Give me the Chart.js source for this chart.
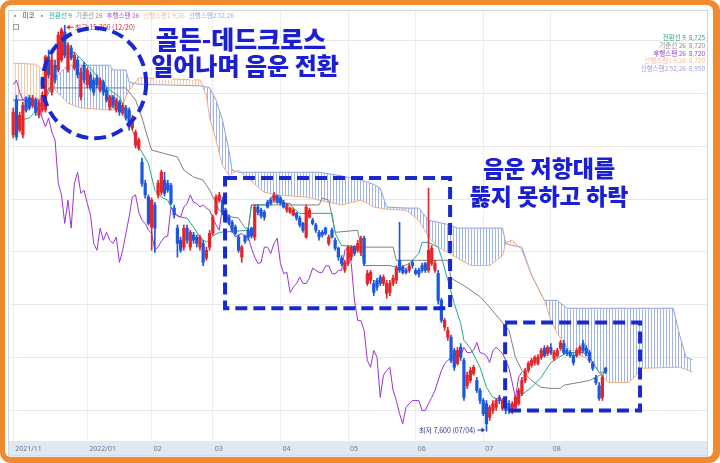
<!DOCTYPE html>
<html>
<head>
<meta charset="utf-8">
<script src="https://cdn.jsdelivr.net/npm/chart.js@4.4.1/dist/chart.umd.min.js"></script>
<style>
  html, body { margin: 0; padding: 0; background: #fff; }
</style>
</head>
<body>
<canvas id="chart" width="720" height="463"></canvas>
<script>
// daily candles, index 0 = late Nov 2021
const opens = [
  13220,13880,13310,13220,13880,13920,13770,13880,13590,13690,
  13690,14700,14030,14540,14450,14640,15170,14450,14870,14490,
  14640,13940,14540,14170,14360,14260,14300,14070,14220,14070,
  13750,13940,13690,13840,13630,13730,13690,13350,13020,12970,
  12700,12300,12040,11470,11890,12080,12130,12360,12300,12260,
  11830,11450,11220,11090,11450,11090,11320,11280,11090,11160,
  10880,11090,11350,11730,11980,11980,11790,11660,11560,11470,
  11280,10900,11300,11410,11450,11280,11850,11790,11750,11940,
  11980,11980,12060,12020,11940,11790,11750,11700,11730,11640,
  11540,11280,11660,11600,11510,11370,11370,11450,11160,11410,
  11220,11070,10880,10650,10780,10900,11090,11030,10990,11260,
  10400,10460,10400,10460,10520,10400,10210,10230,10400,10460,
  10840,10710,10650,10650,10800,10650,10650,10740,10780,10650,
  10780,10650,10590,10080,9570,9380,9380,9130,8880,9190,
  8940,8460,8560,8690,8560,8370,8180,8120,7860,7990,
  8050,8240,8030,8050,8120,7990,8050,8120,8310,8560,
  8750,8850,8900,8880,9000,9170,9070,9190,8980,9030,
  9170,9260,9130,9090,9030,9030,9090,9260,9170,9090,
  8880,8620,8460,8240,8790
];
const highs = [
  13730,13970,13650,13840,13940,13970,13970,13920,13880,14030,
  14730,14830,14730,14640,15170,15250,15300,14970,14920,14780,
  14700,14490,14600,14490,14410,14300,14360,14300,14260,14110,
  13970,13970,13920,13880,13820,13780,13730,13590,13310,13160,
  12780,12360,12080,12020,11940,12360,12550,12510,12360,12300,
  11890,11510,11280,11510,11510,11410,11370,11320,11320,11220,
  11090,11410,11700,12080,12130,12040,11830,11700,11600,11510,
  11320,11120,11320,11450,11470,11890,11890,11830,11790,11980,
  12020,12130,12080,12040,11980,11920,11850,11830,11750,11680,
  11560,11890,11830,11640,11540,11410,11410,11470,11320,11450,
  11260,11090,10930,10840,11120,11120,11120,11220,11300,11300,
  10650,10650,10460,10500,10560,10560,10460,10460,10560,10740,
  11560,10740,10690,10780,10840,10690,10690,10780,10800,12210,
  11120,10840,10650,10120,9740,9570,9420,9170,9190,9260,
  8980,8720,8810,8850,8620,8410,8220,8180,8090,8180,
  8220,8280,8220,8090,8180,8160,8280,8410,8620,8790,
  8920,8980,9030,9050,9170,9220,9220,9260,9130,9170,
  9320,9320,9170,9130,9070,9170,9220,9320,9220,9130,
  8920,8660,8520,8660,8810
];
const lows = [
  13160,13120,13270,13160,13650,13690,13730,13590,13540,13650,
  13650,14300,13970,14200,14410,14600,14680,14410,14640,14450,
  14300,13880,14200,14110,14070,13970,14110,14030,13970,13840,
  13690,13730,13650,13590,13590,13500,13310,13310,12970,12930,
  12240,12020,11510,11030,10990,12020,12080,12060,12130,11890,
  11640,10900,10990,11030,11160,11030,11160,11090,11030,10740,
  10840,11030,11320,11700,11940,11700,11560,11510,11370,11320,
  10990,10800,11160,11220,11260,11220,11700,11640,11600,11830,
  11890,11940,11920,11890,11830,11750,11730,11680,11600,11470,
  11370,11260,11640,11510,11370,11220,11280,11320,11120,11260,
  11030,10840,10740,10610,10740,10840,10930,10990,10930,10740,
  10360,10400,10170,10270,10360,10360,10120,10170,10360,10400,
  10610,10580,10580,10610,10690,10560,10520,10610,10610,10610,
  10740,10610,10010,9660,9510,9320,8900,8750,8850,8940,
  8180,8410,8520,8660,8330,8120,7890,7600,7800,7930,
  7990,8120,7990,7930,7930,7930,8000,8090,8270,8520,
  8710,8810,8850,8850,8960,9000,9030,9050,8940,9000,
  9130,9050,9030,9000,8850,9000,9050,9090,9030,8900,
  8750,8480,8180,8180,8690
];
const closes = [
  13650,13180,13590,13780,13690,13730,13920,13650,13840,13970,
  14700,14360,14640,14260,15110,15210,14730,14920,14680,14730,
  14360,14410,14260,14450,14110,14030,14170,14260,14030,13880,
  13940,13780,13880,13650,13780,13540,13370,13540,13270,13120,
  12300,12080,11540,11980,11450,12300,12510,12110,12170,11920,
  11700,11160,11030,11450,11220,11370,11220,11160,11280,10800,
  11030,11350,11660,12040,12080,11750,11600,11540,11410,11350,
  11030,11090,11200,11280,11300,11850,11750,11680,11660,11850,
  11920,12080,11940,11920,11850,11890,11830,11790,11640,11510,
  11410,11850,11790,11540,11410,11280,11320,11350,11280,11280,
  11070,10900,10780,10800,11090,11090,10970,11160,11260,10780,
  10590,10610,10230,10330,10400,10520,10400,10400,10500,10690,
  10650,10610,10610,10730,10740,10590,10580,10650,10650,11030,
  11070,10780,10080,9700,9700,9510,8940,8810,9130,9000,
  8240,8660,8750,8810,8370,8180,7930,7740,8050,8120,
  8180,8180,8180,7990,7990,8120,8240,8370,8560,8750,
  8880,8940,9000,9000,9130,9030,9190,9090,9090,9130,
  9280,9090,9070,9030,8900,9130,9190,9130,9070,8940,
  8790,8520,8220,8620,8720
];

// 전환선 (conversion line), read at its break points
const convIdx = [0,5,8,11,13,15,19,22,25,27,30,33,35,37,39,42,43,44,46,48,49,50,52,54,56,58,60,62,64,73,
  74,79,80,83,84,86,87,89,99,100,102,108,109,117,120,123,126,127,129,132,133,135,137,139,140,142,145,147,149,152,
  155,157,161,164,167,169,172,177,179,181,182,184];
const convVal = [13460,13540,13730,14010,14450,14730,14790,14600,14410,14260,14070,13940,13650,13310,12990,12680,12420,12170,12040,11980,
  11850,11730,11660,11640,11470,11280,11180,11300,11370,11410,11890,11890,12040,12060,11920,11920,11830,11730,11730,11350,
  11120,11090,10740,10740,10690,10780,10970,11180,11180,11090,10900,10460,10020,9640,9320,9170,8810,8430,8240,8180,
  8050,8240,8430,8620,8900,8980,9090,9090,9000,8810,8710,8725];

// 기준선 (base line)
const baseIdx = [0,10,11,35,38,40,42,43,51,53,56,59,61,63,64,68,70,72,73,74,95,96,98,100,107,108,118,119,135,136,
  140,145,147,154,156,158,161,164,167,170,171,179,181,184];
const baseVal = [13880,13880,14110,14110,13880,13540,13120,12930,12800,12550,12420,12360,12170,11920,11790,11660,11640,11450,11450,11890,
  11890,12020,11980,11370,11410,11090,11090,10840,10840,10500,10360,10150,10020,9510,9000,8750,8560,8430,8410,8410,
  8470,8560,8620,8720];

// 선행스팬1 / 선행스팬2 (cloud), same sample points for both
const spanIdx = [0,7,10,13,17,21,30,31,34,35,36,39,58,60,61,63,65,67,68,70,72,76,78,82,91,95,102,108,110,112,
  114,116,122,126,129,132,135,138,142,148,152,153,155,158,161,165,167,169,172,175,178,181,183,185,191,193,195,205,207,209,211];
const span1 = [14580,14560,14410,14070,13820,13730,13690,13690,13780,13940,14070,14300,14260,13970,13540,13120,12640,12450,12490,12550,
  12450,12230,12130,12080,12040,11980,11890,11980,11920,11850,11830,11810,11790,11600,11280,11090,10990,10880,10740,10740,
  10930,11180,11220,11030,10560,10080,9700,9450,9190,9070,8980,8810,8620,8520,8520,8620,8790,8810,8810,8770,8720];
const span2 = [13880,13880,13970,14300,14540,14540,14540,14450,14450,14450,14220,14180,14150,14130,14110,13880,13500,12930,12550,12510,
  12510,12510,12510,12510,12510,12510,12440,12360,12320,12280,12210,11850,11830,11830,11600,11560,11520,11450,11450,11450,
  11450,11160,11120,11090,10560,10080,10080,10080,9930,9930,9930,9930,9930,9930,9930,9930,9930,9930,9420,9000,8950];

const lagShift = 26;
const monthTicks = [0, 23, 43, 62, 83, 104, 125, 146, 167];
const monthLabels = ['2021/11', '2022/01', '02', '03', '04', '05', '06', '07', '08'];
const priceGrid = [8000, 9000, 10000, 11000, 12000, 13000, 14000, 15000];
const highDate = '12/20';
const lowDate = '07/04';

const RED = '#e5252a', BLUE = '#1d58dc';
const TEAL = '#27a68c', GREY = '#808080', PURPLE = '#9b34d0';
const ORANGE = '#f2ae86', LAVENDER = '#8c9de4';
const NOTE_BLUE = '#1a1fd2';
const KR = '"Noto Sans CJK KR", "Noto Sans", sans-serif';

const canvas = document.getElementById('chart');
const ctx = canvas.getContext('2d');

function stripes(color) {
  const c = document.createElement('canvas');
  c.width = 3; c.height = 4;
  const g = c.getContext('2d');
  g.fillStyle = color;
  g.fillRect(0, 0, 1, 4);
  return ctx.createPattern(c, 'repeat');
}

const pts = (xs, ys) => xs.map((x, i) => ({ x: x, y: ys[i] }));
const candleIdx = closes.map((_, i) => i);
const candleColors = candleIdx.map(i => closes[i] >= opens[i] ? RED : BLUE);
const wicks = candleIdx.map(i => ({ x: i, y: [lows[i], highs[i]] }));
const bodies = candleIdx.map(i => ({ x: i, y: [opens[i], closes[i]] }));
const lagging = closes.slice(lagShift).map((v, i) => ({ x: i, y: v }));

const fmt = v => v.toLocaleString('en-US');

function roundRect(c, x, y, w, h, r) {
  c.beginPath();
  c.moveTo(x + r, y);
  c.arcTo(x + w, y, x + w, y + h, r);
  c.arcTo(x + w, y + h, x, y + h, r);
  c.arcTo(x, y + h, x, y, r);
  c.arcTo(x, y, x + w, y, r);
  c.closePath();
}

const circleNote = { x: 25.2, y: 14200, rx: 16.1, ry: 1045 };
const boxNotes = [
  { x0: 65.8, x1: 135.7, y0: 9930, y1: 12400 },
  { x0: 152.8, x1: 194.7, y0: 7990, y1: 9660 }
];

const deco = {
  id: 'deco',
  beforeDraw(chart) {
    const c = chart.ctx, a = chart.chartArea, xs = chart.scales.x;
    c.save();
    c.fillStyle = '#fff';
    c.fillRect(0, 0, 720, 463);
    roundRect(c, 0, 0, 720, 463, 11);
    c.fillStyle = '#f08a30';
    c.fill();
    roundRect(c, 5, 5, 708, 452, 6);
    c.fillStyle = '#fff';
    c.fill();
    c.fillStyle = '#dfe8f3';
    c.fillRect(8, a.bottom, a.right - 8, xs.bottom - a.bottom);
    c.strokeStyle = '#cdd5de';
    c.lineWidth = 1;
    c.strokeRect(8.5, 10.5, a.right - 8, xs.bottom - 10.5);
    c.restore();
  },
  afterDraw(chart) {
    const c = chart.ctx, xs = chart.scales.x, ys = chart.scales.y;
    c.save();

    // legend line
    const legend = [['▪', '#8a8a8a'], ['미코', '#444'], ['▪', '#8a8a8a'], ['전환선 9', TEAL], ['기준선 26', '#8a8a8a'],
      ['후행스팬 26', '#b054d8'], ['선행스팬1 9,26', '#f3bd98'], ['선행스팬2 52,26', '#a3abe6']];
    c.font = '6.5px ' + KR;
    c.textBaseline = 'middle';
    let lx = 12;
    legend.forEach(([t, col]) => {
      c.fillStyle = col;
      c.fillText(t, lx, 15.5);
      lx += c.measureText(t).width + 4;
    });
    c.strokeStyle = '#9a9a9a';
    c.lineWidth = 1;
    c.strokeRect(13.5, 24.5, 5, 5);

    // last values on the right
    const lastVals = [
      ['전환선 9  ' + fmt(convVal[convVal.length - 1]), TEAL],
      ['기준선 26  ' + fmt(baseVal[baseVal.length - 1]), '#8a8a8a'],
      ['후행스팬 26  ' + fmt(closes[closes.length - 1]), '#a040d0'],
      ['선행스팬1 9,26  ' + fmt(span1[span1.length - 1]), '#f3bd98'],
      ['선행스팬2 52,26  ' + fmt(span2[span2.length - 1]), '#98a2e2']
    ];
    c.textAlign = 'right';
    lastVals.forEach(([t, col], k) => {
      c.fillStyle = col;
      c.fillText(t, 705, 38 + k * 7.6);
    });

    // high / low marks
    c.font = '7px ' + KR;
    const hi = highs.indexOf(Math.max(...highs));
    const lo = lows.indexOf(Math.min(...lows));
    let px = xs.getPixelForValue(hi), py = ys.getPixelForValue(highs[hi]) + 2;
    c.strokeStyle = RED; c.fillStyle = RED;
    c.beginPath(); c.moveTo(px + 4, py); c.lineTo(px + 9, py); c.stroke();
    c.beginPath(); c.moveTo(px + 1.5, py); c.lineTo(px + 5, py - 2.5); c.lineTo(px + 5, py + 2.5); c.fill();
    c.textAlign = 'left';
    c.fillText('최고 ' + fmt(highs[hi]) + ' (' + highDate + ')', px + 10, py);

    px = xs.getPixelForValue(lo); py = ys.getPixelForValue(lows[lo]) - 1;
    c.strokeStyle = '#2a3590'; c.fillStyle = '#2a3590';
    c.beginPath(); c.moveTo(px - 9, py); c.lineTo(px - 4, py); c.stroke();
    c.beginPath(); c.moveTo(px - 1.5, py); c.lineTo(px - 5, py - 2.5); c.lineTo(px - 5, py + 2.5); c.fill();
    c.textAlign = 'right';
    c.fillText('최저 ' + fmt(lows[lo]) + ' (' + lowDate + ')', px - 11, py);

    // dashed circle and boxes
    c.strokeStyle = '#1a28cf';
    c.lineWidth = 4;
    c.setLineDash([12, 6]);
    const cx = xs.getPixelForValue(circleNote.x), cy = ys.getPixelForValue(circleNote.y);
    const rx = xs.getPixelForValue(circleNote.x + circleNote.rx) - cx;
    const ry = cy - ys.getPixelForValue(circleNote.y + circleNote.ry);
    c.beginPath();
    c.ellipse(cx, cy, rx, ry, 0, 0, Math.PI * 2);
    c.stroke();
    boxNotes.forEach(b => {
      const x0 = xs.getPixelForValue(b.x0), x1 = xs.getPixelForValue(b.x1);
      const y0 = ys.getPixelForValue(b.y1), y1 = ys.getPixelForValue(b.y0);
      c.strokeRect(x0, y0, x1 - x0, y1 - y0);
    });
    c.setLineDash([]);

    // callouts
    const notes = [
      ['골든-데드크로스', 241, 39, 25],
      ['일어나며 음운 전환', 245, 66, 24],
      ['음운 저항대를', 549, 168, 23],
      ['뚫지 못하고 하락', 549, 196, 23]
    ];
    c.textAlign = 'center';
    c.lineJoin = 'round';
    notes.forEach(([t, x, y, s]) => {
      c.font = '900 ' + s + 'px ' + KR;
      c.strokeStyle = '#fff';
      c.lineWidth = 3;
      c.strokeText(t, x, y);
      c.fillStyle = NOTE_BLUE;
      c.fillText(t, x, y);
    });
    c.restore();
  }
};

new Chart(ctx, {
  type: 'bar',
  data: {
    datasets: [
      { type: 'bar', data: wicks, backgroundColor: candleColors, barThickness: 1, grouped: false, order: 1 },
      { type: 'bar', data: bodies, backgroundColor: candleColors, barThickness: 2.6, grouped: false, minBarLength: 1, order: 0 },
      { type: 'line', data: pts(convIdx, convVal), borderColor: TEAL, borderWidth: 1, order: 3 },
      { type: 'line', data: pts(baseIdx, baseVal), borderColor: GREY, borderWidth: 1, order: 4 },
      { type: 'line', data: lagging, borderColor: PURPLE, borderWidth: 1, order: 2 },
      {
        type: 'line', data: pts(spanIdx, span1), borderColor: ORANGE, borderWidth: 1, order: 8,
        fill: { target: 6, above: stripes('#f6c8a8'), below: stripes('#9fb5ea') }
      },
      { type: 'line', data: pts(spanIdx, span2), borderColor: LAVENDER, borderWidth: 1, order: 9 }
    ]
  },
  options: {
    responsive: false,
    animation: false,
    events: [],
    devicePixelRatio: 1,
    layout: { padding: { left: 10, right: 13, top: 11, bottom: 7 } },
    elements: { point: { radius: 0 }, line: { tension: 0 } },
    plugins: { legend: { display: false }, tooltip: { enabled: false } },
    scales: {
      x: {
        type: 'linear', min: -1, max: 215.5, offset: false,
        afterBuildTicks: s => { s.ticks = monthTicks.map(v => ({ value: v })); },
        afterFit: s => { s.height = 15; },
        grid: { color: '#ececec', drawTicks: false, offset: false },
        border: { display: false },
        ticks: {
          autoSkip: false, maxRotation: 0, align: 'start', labelOffset: 2, padding: 4,
          color: '#6b7890', font: { size: 7, family: 'Noto Sans' },
          callback: (v, i) => monthLabels[i]
        }
      },
      y: {
        min: 7412, max: 15569,
        afterBuildTicks: s => { s.ticks = priceGrid.map(v => ({ value: v })); },
        afterFit: s => { s.width = 0; },
        grid: { color: '#e8e8e8', drawTicks: false },
        border: { display: false },
        ticks: { display: false }
      }
    }
  },
  plugins: [deco]
});
</script>
</body>
</html>
